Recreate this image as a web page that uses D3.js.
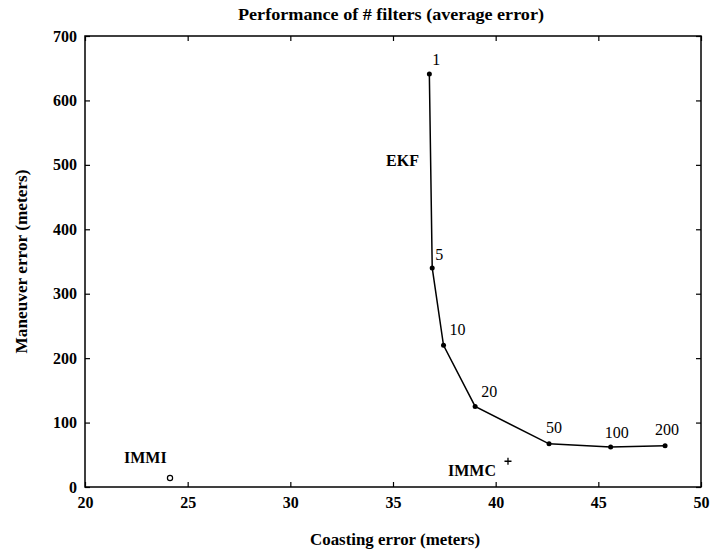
<!DOCTYPE html>
<html>
<head>
<meta charset="utf-8">
<script src="https://cdn.jsdelivr.net/npm/d3@7"></script>
<style>
  body { margin: 0; background: #fff; }
  text { font-family: "Liberation Serif", "Times New Roman", serif; fill: #000; }
</style>
</head>
<body>
<div id="chart"></div>
<script>
// EKF curve: number of filters vs. errors
const filterCounts = ["1", "5", "10", "20", "50", "100", "200"];
const coastingError = [36.77, 36.91, 37.46, 39.0, 42.6, 45.6, 48.25];
const maneuverError = [641, 340, 220, 125, 67, 62, 64];

// single IMM results
const immiPoint = [24.14, 14];
const immcPoint = [40.6, 40];

// tick values
const xTicks = [20, 25, 30, 35, 40, 45, 50];
const yTicks = [0, 100, 200, 300, 400, 500, 600, 700];

// label nudges (pixels) for the filter-count labels
const labelOffsets = [[3, -9], [3, -8], [6, -10], [6, -9], [-3, -11], [-6, -9], [-10, -11]];

const W = 725, H = 552;
const margin = { top: 36, right: 24, bottom: 65, left: 85 };

const svg = d3.select("#chart")
  .append("svg")
  .attr("width", W)
  .attr("height", H);

const x = d3.scaleLinear().domain([20, 50]).range([margin.left, W - margin.right]);
const y = d3.scaleLinear().domain([0, 700]).range([H - margin.bottom, margin.top]);

// box
svg.append("rect")
  .attr("x", x(20)).attr("y", y(700))
  .attr("width", x(50) - x(20)).attr("height", y(0) - y(700))
  .attr("fill", "none").attr("stroke", "#000").attr("stroke-width", 1.5);

// axes with inward ticks (ticks on all four sides)
const tk = 5;
svg.append("g")
  .attr("transform", `translate(0,${y(0)})`)
  .call(d3.axisBottom(x).tickValues(xTicks).tickSizeInner(-tk).tickSizeOuter(0).tickPadding(10))
  .call(g => g.select(".domain").remove());
svg.append("g")
  .attr("transform", `translate(0,${y(700)})`)
  .call(d3.axisTop(x).tickValues(xTicks).tickSizeInner(-tk).tickSizeOuter(0).tickFormat(""))
  .call(g => g.select(".domain").remove());
svg.append("g")
  .attr("transform", `translate(${x(20)},0)`)
  .call(d3.axisLeft(y).tickValues(yTicks).tickSizeInner(-tk).tickSizeOuter(0).tickPadding(8))
  .call(g => g.select(".domain").remove());
svg.append("g")
  .attr("transform", `translate(${x(50)},0)`)
  .call(d3.axisRight(y).tickValues(yTicks).tickSizeInner(-tk).tickSizeOuter(0).tickFormat(""))
  .call(g => g.select(".domain").remove());

svg.selectAll(".tick line").attr("stroke", "#000").attr("stroke-width", 1.2);
svg.selectAll(".tick text")
  .style("font-family", "'Liberation Serif', serif")
  .style("font-size", "16px")
  .style("font-weight", "bold")
  .attr("fill", "#000");

// EKF curve
const pts = coastingError.map((c, i) => [c, maneuverError[i]]);
svg.append("path")
  .datum(pts)
  .attr("fill", "none")
  .attr("stroke", "#000")
  .attr("stroke-width", 1.5)
  .attr("d", d3.line().x(d => x(d[0])).y(d => y(d[1])));

svg.append("g")
  .selectAll("circle")
  .data(pts)
  .join("circle")
  .attr("cx", d => x(d[0]))
  .attr("cy", d => y(d[1]))
  .attr("r", 2.5)
  .attr("fill", "#000");

svg.append("g")
  .selectAll("text")
  .data(pts)
  .join("text")
  .attr("x", (d, i) => x(d[0]) + labelOffsets[i][0])
  .attr("y", (d, i) => y(d[1]) + labelOffsets[i][1])
  .style("font-size", "16px")
  .text((d, i) => filterCounts[i]);

// IMMI 'o' marker
svg.append("circle")
  .attr("cx", x(immiPoint[0])).attr("cy", y(immiPoint[1]))
  .attr("r", 2.6)
  .attr("fill", "none").attr("stroke", "#000").attr("stroke-width", 1.2);

// IMMC '+' marker
svg.append("path")
  .attr("transform", `translate(${x(immcPoint[0])},${y(immcPoint[1])})`)
  .attr("d", "M-3.5,0H3.5M0,-3.5V3.5")
  .attr("stroke", "#000").attr("stroke-width", 1.3);

// annotations (data coordinates)
const notes = [
  { t: "EKF", at: [34.66, 498] },
  { t: "IMMI", at: [21.9, 36.5] },
  { t: "IMMC", at: [37.68, 16.3] }
];
svg.append("g")
  .selectAll("text")
  .data(notes)
  .join("text")
  .attr("x", d => x(d.at[0]))
  .attr("y", d => y(d.at[1]))
  .style("font-size", "16px")
  .style("font-weight", "bold")
  .text(d => d.t);

// titles
svg.append("text")
  .attr("x", 391).attr("y", 20)
  .attr("text-anchor", "middle")
  .attr("textLength", 306)
  .attr("lengthAdjust", "spacingAndGlyphs")
  .style("font-size", "16px")
  .style("font-weight", "bold")
  .text("Performance of # filters (average error)");

svg.append("text")
  .attr("x", 395).attr("y", 545)
  .attr("text-anchor", "middle")
  .attr("textLength", 170)
  .attr("lengthAdjust", "spacingAndGlyphs")
  .style("font-size", "16px")
  .style("font-weight", "bold")
  .text("Coasting error (meters)");

svg.append("text")
  .attr("transform", `translate(27,${(y(0) + y(700)) / 2}) rotate(-90)`)
  .attr("text-anchor", "middle")
  .attr("textLength", 184)
  .attr("lengthAdjust", "spacingAndGlyphs")
  .style("font-size", "16px")
  .style("font-weight", "bold")
  .text("Maneuver error (meters)");
</script>
</body>
</html>
